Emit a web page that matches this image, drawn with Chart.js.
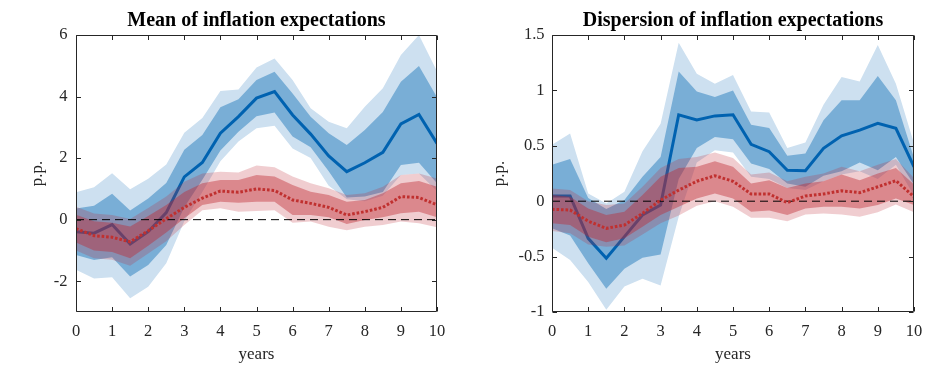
<!DOCTYPE html>
<html><head><meta charset="utf-8">
<script src="https://cdn.jsdelivr.net/npm/chart.js@4.4.1/dist/chart.umd.min.js"></script>
<style>
html,body{margin:0;padding:0;background:#fff;}
#wrap{position:relative;width:945px;height:369px;overflow:hidden;}
canvas{position:absolute;top:0;}
</style></head><body>
<div id="wrap">
<canvas id="c1" width="472" height="369" style="left:0"></canvas>
<canvas id="c2" width="473" height="369" style="left:472px"></canvas>
</div>
<script>
// ---------- data ----------
const years = [0,0.5,1,1.5,2,2.5,3,3.5,4,4.5,5,5.5,6,6.5,7,7.5,8,8.5,9,9.5,10];
const xTicks = [0,1,2,3,4,5,6,7,8,9,10];
const zeroX = [0,10];
const zeroY = [0,0];

// Left panel: Mean of inflation expectations
const meanTitle = "Mean of inflation expectations";
const meanYTicks = [-2,0,2,4,6];
const meanBlue          = [-0.39,-0.44,-0.16,-0.79,-0.39,0.23,1.39,1.86,2.81,3.35,3.95,4.16,3.40,2.78,2.07,1.56,1.85,2.19,3.11,3.42,2.48];
const meanBlueDarkUp    = [0.36,0.45,0.84,0.30,0.69,1.19,2.27,2.75,3.65,3.91,4.54,4.81,4.10,3.34,2.81,2.43,2.91,3.50,4.48,4.99,3.98];
const meanBlueDarkLo    = [-1.15,-1.31,-1.22,-1.85,-1.47,-0.82,0.40,1.30,2.25,2.86,3.36,3.48,2.70,2.35,1.57,0.72,0.75,0.90,1.78,1.85,1.18];
const meanBlueLightUp   = [0.89,1.05,1.51,0.99,1.33,1.79,2.82,3.30,4.18,4.23,4.94,5.24,4.54,3.62,3.18,2.97,3.67,4.27,5.35,6.00,4.82];
const meanBlueLightLo   = [-1.63,-1.91,-1.87,-2.55,-2.18,-1.42,-0.05,0.90,1.90,2.54,2.97,3.05,2.31,2.00,1.10,0.66,0.60,0.78,1.45,1.50,0.93];
const meanRed           = [-0.29,-0.52,-0.57,-0.72,-0.36,0.03,0.40,0.70,0.93,0.89,1.00,0.95,0.64,0.53,0.40,0.15,0.26,0.40,0.75,0.72,0.48];
const meanRedDarkUp     = [0.16,-0.05,-0.10,-0.22,0.12,0.48,0.90,1.18,1.29,1.29,1.45,1.40,1.13,0.91,0.80,0.58,0.64,0.86,1.18,1.26,1.07];
const meanRedDarkLo     = [-0.74,-1.00,-1.05,-1.25,-0.85,-0.42,0.05,0.48,0.58,0.55,0.58,0.58,0.15,0.15,0.08,-0.14,-0.01,0.08,0.21,0.26,0.08];
const meanRedLightUp    = [0.42,0.20,0.15,0.02,0.38,0.75,1.23,1.50,1.56,1.53,1.76,1.70,1.40,1.18,1.02,0.80,0.86,1.07,1.45,1.50,1.34];
const meanRedLightLo    = [-1.00,-1.25,-1.30,-1.50,-1.10,-0.70,-0.17,0.31,0.37,0.26,0.28,0.31,-0.10,-0.06,-0.23,-0.34,-0.23,-0.17,-0.06,-0.12,-0.25];

// Right panel: Dispersion of inflation expectations
const dispTitle = "Dispersion of inflation expectations";
const dispYTicks = [-1,-0.5,0,0.5,1,1.5];
const dispBlue          = [0.047,0.047,-0.335,-0.515,-0.32,-0.125,-0.034,0.78,0.733,0.77,0.78,0.513,0.447,0.28,0.275,0.477,0.59,0.642,0.703,0.658,0.31];
const dispBlueDarkUp    = [0.33,0.38,0.03,-0.07,0.01,0.22,0.40,1.17,0.99,0.94,1.00,0.69,0.66,0.41,0.43,0.73,0.91,0.91,1.13,0.91,0.39];
const dispBlueDarkLo    = [-0.245,-0.31,-0.56,-0.79,-0.61,-0.51,-0.48,0.20,0.48,0.58,0.56,0.34,0.29,0.16,0.13,0.23,0.27,0.35,0.28,0.40,0.15];
const dispBlueLightUp   = [0.51,0.61,0.07,-0.02,0.085,0.45,0.70,1.43,1.15,1.06,1.14,0.81,0.80,0.48,0.53,0.87,1.12,1.08,1.41,1.06,0.52];
const dispBlueLightLo   = [-0.42,-0.53,-0.73,-0.98,-0.77,-0.70,-0.76,-0.14,0.35,0.46,0.44,0.22,0.20,0.12,0.10,0.18,0.24,0.27,0.20,0.33,0.05];
const dispRed           = [-0.073,-0.08,-0.18,-0.245,-0.215,-0.11,0.01,0.10,0.18,0.23,0.18,0.065,0.065,-0.013,0.047,0.065,0.094,0.077,0.13,0.185,0.04];
const dispRedDarkUp     = [0.055,0.04,-0.065,-0.125,-0.095,0.055,0.22,0.30,0.31,0.36,0.31,0.16,0.19,0.12,0.16,0.18,0.24,0.19,0.25,0.30,0.15];
const dispRedDarkLo     = [-0.20,-0.215,-0.32,-0.37,-0.335,-0.23,-0.125,-0.05,0.025,0.07,0.025,-0.095,-0.085,-0.125,-0.065,-0.05,-0.05,-0.065,-0.035,0.025,-0.035];
const dispRedLightUp    = [0.115,0.10,0.0,-0.035,-0.02,0.13,0.30,0.38,0.40,0.44,0.39,0.24,0.26,0.18,0.22,0.25,0.31,0.27,0.33,0.38,0.21];
const dispRedLightLo    = [-0.27,-0.29,-0.39,-0.41,-0.40,-0.30,-0.20,-0.13,-0.04,0.0,-0.05,-0.15,-0.15,-0.18,-0.12,-0.11,-0.12,-0.14,-0.10,-0.03,-0.10];

// ---------- rendering ----------
const FONT = "'Liberation Serif','Times New Roman',serif";
const INK = '#262626';
const C_BLUE_LIGHT = '#cde0f0';
const C_BLUE_DARK = '#79aed6';
const C_BLUE_LINE = '#0062b0';
const C_RED_LIGHT = 'rgba(190,40,50,0.23)';
const C_RED_DARK = 'rgba(190,40,50,0.42)';
const C_RED_LINE = '#c0302f';

function pts(xs, ys){ return xs.map((t,i)=>({x:t, y:ys[i]})); }
function bandSets(up, lo, color, order){
  return [
    {data: pts(years, up), borderWidth:0, borderColor:'rgba(0,0,0,0)', pointRadius:0, fill:'+1', backgroundColor:color, order},
    {data: pts(years, lo), borderWidth:0, borderColor:'rgba(0,0,0,0)', pointRadius:0, fill:false, order}
  ];
}

const framePlugin = {
  id:'frame',
  afterDatasetsDraw(chart){
    const {ctx, chartArea:{left,right,top,bottom}} = chart;
    const xs = chart.scales.x, ys = chart.scales.y;
    const L = Math.round(left)+0.5, R = Math.round(right)-0.5, T = Math.round(top)+0.5, B = Math.round(bottom)-0.5;
    ctx.save();
    ctx.strokeStyle = INK; ctx.lineWidth = 1;
    ctx.beginPath();
    ctx.rect(L, T, R-L, B-T);
    const tl = 4.5;
    xs.ticks.forEach(tk=>{
      const px = Math.round(xs.getPixelForValue(tk.value))+0.5;
      ctx.moveTo(px, B); ctx.lineTo(px, B-tl);
      ctx.moveTo(px, T); ctx.lineTo(px, T+tl);
    });
    ys.ticks.forEach(tk=>{
      const py = Math.round(ys.getPixelForValue(tk.value))+0.5;
      ctx.moveTo(L, py); ctx.lineTo(L+tl, py);
      ctx.moveTo(R, py); ctx.lineTo(R-tl, py);
    });
    ctx.stroke();
    ctx.restore();
  }
};

function makeChart(id, p){
  const datasets = [
    ...bandSets(p.bLightUp, p.bLightLo, C_BLUE_LIGHT, 10),
    ...bandSets(p.bDarkUp, p.bDarkLo, C_BLUE_DARK, 9),
    {data: pts(years, p.bLine), borderColor:C_BLUE_LINE, borderWidth:3, pointRadius:0, fill:false, order:8, borderJoinStyle:'miter'},
    ...bandSets(p.rLightUp, p.rLightLo, C_RED_LIGHT, 7),
    ...bandSets(p.rDarkUp, p.rDarkLo, C_RED_DARK, 6),
    {data: pts(zeroX, zeroY), borderColor:'#000', borderWidth:1, borderDash:[8,5], pointRadius:0, fill:false, order:5},
    {data: pts(years, p.rLine), borderColor:C_RED_LINE, borderWidth:3, borderDash:[2.6,1.9], borderCapStyle:'butt', pointRadius:0, fill:false, order:4}
  ];
  return new Chart(document.getElementById(id), {
    type:'line',
    data:{datasets},
    plugins:[framePlugin],
    options:{
      responsive:false, animation:false, events:[],
      layout:{padding:{left:0, right:p.padRight, top:0, bottom:0}},
      elements:{line:{tension:0}},
      plugins:{
        legend:{display:false}, tooltip:{enabled:false},
        title:{display:true, text:p.title, fullSize:false, color:'#000',
          font:{family:FONT, size:20, weight:'bold', lineHeight:1.2}, padding:{top:9, bottom:2}}
      },
      scales:{
        x:{type:'linear', min:0, max:10,
          afterBuildTicks:s=>{ s.ticks = xTicks.map(v=>({value:v})); },
          ticks:{font:{family:FONT, size:16.5}, color:INK, padding:10, maxRotation:0, autoSkip:false, callback:v=>String(v)},
          grid:{display:false, drawTicks:false}, border:{display:false},
          title:{display:true, text:'years', color:INK, font:{family:FONT, size:17}, padding:{top:0, bottom:4.5}},
          afterFit:s=>{ s.height = 57; }
        },
        y:{type:'linear', min:p.yMin, max:p.yMax,
          afterBuildTicks:s=>{ s.ticks = p.yTicks.map(v=>({value:v})); },
          ticks:{font:{family:FONT, size:16.5}, color:INK, padding:p.yPad, autoSkip:false, callback:v=>String(v)},
          grid:{display:false, drawTicks:false}, border:{display:false},
          title:{display:true, text:'p.p.', color:INK, font:{family:FONT, size:17}, padding:{top:p.yTitlePad, bottom:0}},
          afterFit:s=>{ s.width = p.yWidth; }
        }
      }
    }
  });
}

makeChart('c1', {
  title:meanTitle, yMin:-3, yMax:6, yTicks:meanYTicks, yWidth:76, padRight:35, yPad:8.5, yTitlePad:27,
  bLine:meanBlue, bDarkUp:meanBlueDarkUp, bDarkLo:meanBlueDarkLo, bLightUp:meanBlueLightUp, bLightLo:meanBlueLightLo,
  rLine:meanRed, rDarkUp:meanRedDarkUp, rDarkLo:meanRedDarkLo, rLightUp:meanRedLightUp, rLightLo:meanRedLightLo
});
makeChart('c2', {
  title:dispTitle, yMin:-1, yMax:1.5, yTicks:dispYTicks, yWidth:80, padRight:31, yPad:7.5, yTitlePad:17.1,
  bLine:dispBlue, bDarkUp:dispBlueDarkUp, bDarkLo:dispBlueDarkLo, bLightUp:dispBlueLightUp, bLightLo:dispBlueLightLo,
  rLine:dispRed, rDarkUp:dispRedDarkUp, rDarkLo:dispRedDarkLo, rLightUp:dispRedLightUp, rLightLo:dispRedLightLo
});
</script>
</body></html>
